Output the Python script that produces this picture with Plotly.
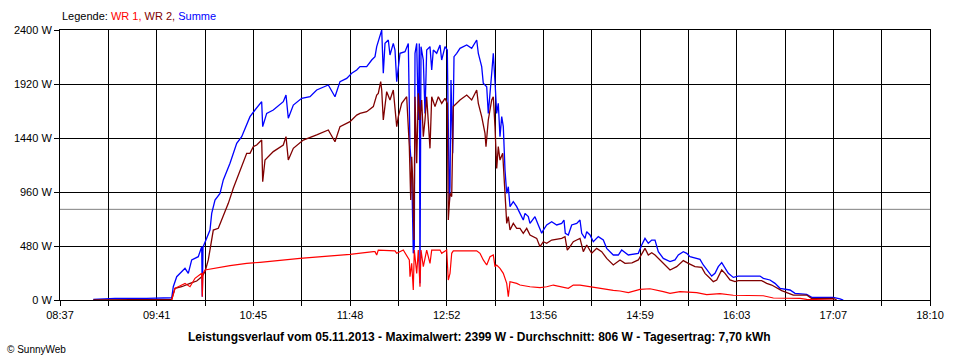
import plotly.graph_objects as go

# ---------------- data ----------------
x_tick_labels = ["08:37", "09:41", "10:45", "11:48", "12:52", "13:56", "14:59", "16:03", "17:07", "18:10"]
y_tick_values = [0, 480, 960, 1440, 1920, 2400]

avg_w = 806  # Durchschnitt

sum_time = ["08:58:56","09:13:13","09:34:06","09:50:34","09:51:37","09:53:52","09:59:20","10:01:30","10:03:44","10:08:05",
            "10:10:20","10:10:43","10:11:11","10:12:30","10:15:47","10:16:55","10:19:05","10:22:23","10:24:33","10:28:58",
            "10:33:23","10:36:40","10:39:58","10:42:08","10:45:26","10:49:50","10:50:30","10:53:08","10:57:29","11:04:04",
            "11:05:51","11:07:22","11:10:40","11:16:11","11:21:40","11:26:04","11:33:43","11:38:07","11:41:25","11:45:50",
            "11:49:07","11:52:25","11:54:35","11:59:00","12:02:17","12:04:28","12:05:35","12:07:46","12:08:53","12:09:56",
            "12:11:03","12:13:14","12:14:20","12:16:31","12:17:38","12:18:46","12:20:56","12:24:13","12:26:24","12:27:31",
            "12:28:38","12:29:41","12:30:21","12:30:49","12:31:56","12:32:59","12:33:38","12:34:06","12:34:46","12:36:17",
            "12:37:24","12:38:31","12:40:41","12:41:49","12:42:52","12:45:06","12:47:17","12:48:23","12:50:34","12:52:05",
            "12:52:44","12:53:24","12:53:52","12:54:31","12:55:38","12:56:30","12:58:17","13:00:27","13:04:52","13:08:09",
            "13:11:27","13:12:31","13:14:44","13:15:47","13:18:02","13:19:05","13:21:20","13:22:23","13:23:30","13:24:37",
            "13:25:40","13:26:47","13:27:55","13:28:58","13:30:05","13:31:13","13:32:16","13:33:23","13:35:33","13:37:47",
            "13:39:58","13:42:08","13:43:16","13:45:26","13:46:33","13:49:50","13:52:01","13:54:16","13:55:19","13:57:33",
            "14:00:50","14:04:08","14:07:26","14:08:56","14:09:48","14:11:47","14:14:01","14:17:19","14:19:29","14:20:36",
            "14:22:47","14:23:54","14:26:04","14:28:15","14:31:32","14:34:50","14:37:04","14:41:25","14:44:43","14:46:57",
            "14:51:18","14:57:53","15:00:07","15:02:17","15:04:28","15:06:43","15:08:53","15:11:03","15:14:21","15:18:46",
            "15:22:03","15:24:14","15:27:31","15:29:46","15:31:56","15:35:13","15:38:31","15:40:41","15:43:59","15:46:13",
            "15:48:24","15:50:34","15:52:49","15:54:59","15:57:10","16:00:27","16:03:44","16:18:02","16:20:13","16:24:37",
            "16:27:55","16:31:13","16:37:47","16:41:05","16:48:47","16:52:05","17:06:19","17:10:43","17:12:54"]
sum_w = [5,15,15,20,118,207,281,237,356,385,
         474,30,470,518,622,770,889,948,1067,1215,
         1393,1452,1570,1630,1689,1763,1541,1659,1689,1763,
         1822,1615,1733,1793,1807,1867,1911,1807,1941,1970,
         2015,2044,2074,2074,2133,2163,2252,2355,2399,2015,
         2281,2311,2178,2281,2222,1941,2193,2207,2281,1363,
         1156,415,474,2193,2281,1600,2281,150,2252,2133,
         1659,2222,2252,2044,2222,2193,2267,2133,2252,2222,
         1333,859,1007,1956,1304,2163,2193,2237,2267,2237,
         2311,2193,2074,1926,1896,1659,2015,2193,1941,1659,
         1748,1452,1630,1541,1156,948,1007,830,874,830,
         770,711,770,741,681,741,667,593,622,667,
         696,667,681,711,593,578,667,681,711,593,
         548,607,578,518,563,533,459,400,400,444,
         400,415,489,548,504,533,533,430,370,341,
         356,400,430,415,385,370,361,311,252,213,
         237,296,332,282,237,201,213,213,193,178,
         148,104,89,59,50,24,24,9,0]

wr2_time = ["08:58:56","09:50:34","09:52:44","09:57:09","10:02:37","10:07:02","10:10:20","10:12:30","10:14:40","10:16:15",
            "10:17:58","10:21:16","10:24:33","10:27:51","10:31:08","10:34:26","10:37:44","10:39:58","10:42:08","10:44:19",
            "10:46:33","10:49:50","10:50:30","10:52:01","10:57:29","11:04:04","11:05:51","11:07:22","11:10:40","11:17:14",
            "11:26:04","11:33:43","11:38:07","11:41:25","11:48:00","11:52:25","11:54:35","11:59:00","12:03:21","12:05:35",
            "12:06:38","12:08:13","12:08:53","12:09:56","12:12:10","12:14:20","12:16:31","12:18:46","12:19:49","12:22:03",
            "12:25:20","12:27:04","12:27:59","12:28:38","12:29:18","12:30:09","12:30:49","12:31:56","12:32:59","12:34:06",
            "12:35:13","12:36:17","12:37:24","12:38:31","12:40:41","12:41:49","12:43:59","12:46:10","12:48:23","12:50:34",
            "12:52:05","12:52:44","12:53:52","12:54:59","12:56:02","13:00:27","13:04:52","13:08:09","13:11:27","13:12:31",
            "13:14:44","13:16:55","13:17:34","13:19:05","13:21:20","13:22:23","13:23:30","13:24:37","13:25:40","13:26:47",
            "13:28:34","13:30:05","13:31:13","13:32:16","13:33:23","13:35:33","13:37:47","13:39:58","13:42:08","13:44:23",
            "13:46:33","13:50:58","13:53:08","13:55:19","13:57:33","14:00:50","14:07:26","14:09:36","14:11:07","14:12:54",
            "14:15:04","14:17:19","14:19:29","14:21:40","14:23:54","14:27:11","14:30:29","14:33:46","14:37:04","14:41:25",
            "14:45:50","14:49:07","14:53:44","14:57:53","15:00:07","15:02:17","15:04:28","15:06:43","15:08:53","15:11:03",
            "15:14:21","15:18:46","15:23:10","15:27:31","15:30:49","15:35:13","15:39:38","15:41:49","15:45:06","15:47:17",
            "15:49:31","15:52:49","15:54:59","15:58:17","16:01:34","16:03:44","16:19:09","16:22:26","16:25:44","16:29:02",
            "16:32:19","16:39:58","16:48:47","16:52:05","17:06:19","17:08:33"]
wr2_w = [0,5,104,118,148,169,207,252,356,474,
         622,637,741,859,993,1111,1215,1304,1304,1363,
         1378,1422,1052,1244,1319,1378,1452,1244,1348,1422,
         1467,1511,1407,1541,1585,1644,1659,1674,1719,1822,
         1837,1941,1867,1600,1852,1778,1867,1541,1630,1748,
         1807,1363,889,1274,1067,533,1807,1215,1837,1600,
         1778,1452,1600,1807,1348,1807,1719,1807,1748,1793,
         1748,711,948,919,1719,1778,1822,1778,1867,1748,
         1630,1481,1363,1600,1778,1807,1541,1170,1363,1244,
         1304,889,681,741,622,681,637,637,593,637,
         578,548,474,518,504,533,548,563,444,474,
         518,533,548,430,489,415,459,430,370,311,
         356,326,330,356,415,459,400,420,400,370,
         326,267,296,350,326,296,290,237,193,163,
         178,267,237,178,163,172,172,148,133,104,
         83,44,44,12,15,0]

wr1_time = ["09:50:34","09:52:44","09:59:20","10:02:37","10:05:55","10:10:20","10:10:43","10:11:11","10:12:30","10:17:58",
            "10:28:58","10:39:58","10:48:43","11:15:04","11:48:00","12:03:21","12:04:28","12:05:35","12:06:38","12:17:38",
            "12:18:46","12:23:06","12:27:04","12:27:31","12:28:38","12:29:41","12:30:21","12:31:56","12:32:59","12:34:06",
            "12:34:46","12:36:17","12:38:31","12:40:41","12:41:49","12:47:17","12:48:23","12:51:41","12:52:44","12:53:52",
            "12:54:59","12:56:02","13:11:27","13:13:37","13:15:47","13:18:02","13:20:13","13:22:23","13:23:30","13:24:37",
            "13:26:47","13:28:58","13:31:13","13:32:16","13:33:23","13:37:47","13:39:58","13:46:33","13:53:08","13:57:33",
            "14:01:54","14:11:47","14:15:04","14:19:29","14:26:04","14:32:40","14:41:25","14:45:50","14:51:18","14:59:00",
            "15:05:35","15:14:21","15:18:46","15:25:21","15:36:20","15:42:56","15:51:41","16:00:27","16:11:27","16:20:13",
            "16:26:48","16:44:23","16:48:47","17:06:19"]
wr1_w = [0,104,148,118,193,237,30,237,267,281,
         305,326,335,370,406,430,430,400,444,437,
         415,444,356,207,326,89,444,237,444,118,
         444,296,444,326,444,444,415,444,178,237,
         415,437,437,415,356,311,385,400,296,311,
         281,237,148,30,163,148,133,118,110,118,
         133,104,133,133,118,104,85,80,65,95,
         100,74,59,74,65,48,56,42,38,38,
         18,15,6,0]

# ---------------- helpers ----------------
def to_min(s):
    h, m, sec = (int(v) for v in s.split(":"))
    return h * 60 + m + sec / 60.0

x_start = to_min(x_tick_labels[0] + ":00")
x_end = to_min(x_tick_labels[-1] + ":00")
n_grid = 2 * (len(x_tick_labels) - 1)
grid_vals = [x_start + i * (x_end - x_start) / n_grid for i in range(n_grid + 1)]
grid_text = [x_tick_labels[i // 2] if i % 2 == 0 else "" for i in range(n_grid + 1)]

FONT = "Liberation Sans, Arial, sans-serif"

fig = go.Figure()
fig.add_trace(go.Scatter(x=[to_min(t) for t in sum_time], y=sum_w, mode="lines",
                         line=dict(color="#0000FF", width=1.3), name="Summe", hoverinfo="skip"))
fig.add_trace(go.Scatter(x=[to_min(t) for t in wr2_time], y=wr2_w, mode="lines",
                         line=dict(color="#800000", width=1.3), name="WR 2", hoverinfo="skip"))
fig.add_trace(go.Scatter(x=[to_min(t) for t in wr1_time], y=wr1_w, mode="lines",
                         line=dict(color="#FF0000", width=1.2), name="WR 1", hoverinfo="skip"))

fig.add_shape(type="line", xref="paper", x0=0, x1=1, yref="y", y0=avg_w, y1=avg_w,
              line=dict(color="#808080", width=1), layer="between")

fig.update_layout(
    width=960, height=360,
    margin=dict(l=60, r=30, t=30, b=60, autoexpand=False),
    paper_bgcolor="white", plot_bgcolor="white",
    showlegend=False,
    font=dict(family=FONT, size=11, color="black"),
    xaxis=dict(range=[x_start, x_end], tickmode="array", tickvals=grid_vals, ticktext=grid_text,
               showgrid=True, gridcolor="black", gridwidth=1, zeroline=False,
               showline=True, linecolor="black", linewidth=1, mirror=True,
               ticks="outside", ticklen=5, tickcolor="black", tickwidth=1,
               tickfont=dict(family=FONT, size=11, color="black"), automargin=False, fixedrange=True),
    yaxis=dict(range=[0, 2400], tickmode="array", tickvals=y_tick_values,
               ticktext=[f"{v} W" for v in y_tick_values],
               showgrid=True, gridcolor="black", gridwidth=1, zeroline=False,
               showline=True, linecolor="black", linewidth=1, mirror=True,
               ticks="outside", ticklen=5, tickcolor="black", tickwidth=1,
               tickfont=dict(family=FONT, size=11, color="black"), automargin=False, fixedrange=True),
)

fig.add_annotation(xref="paper", yref="paper", x=0, y=(300 - 16) / 270, xanchor="left", yanchor="middle",
                   showarrow=False, font=dict(family=FONT, size=11, color="black"),
                   text="Legende: <span style='color:#FF0000'>WR 1, </span><span style='color:#800000'>WR 2, </span>"
                        "<span style='color:#0000FF'>Summe</span>")
fig.add_annotation(xref="paper", yref="paper", x=(479.5 - 60) / 870, y=(300 - 337) / 270,
                   xanchor="center", yanchor="middle", showarrow=False,
                   font=dict(family=FONT, size=12, color="black"),
                   text="<b>Leistungsverlauf vom 05.11.2013 - Maximalwert: 2399 W - Durchschnitt: 806 W - "
                        "Tagesertrag: 7,70 kWh</b>")
fig.add_annotation(xref="paper", yref="paper", x=(5 - 60) / 870, y=(300 - 349) / 270,
                   xanchor="left", yanchor="middle", showarrow=False,
                   font=dict(family=FONT, size=10, color="black"), text="© SunnyWeb")

fig.write_html("out.html", config={"displayModeBar": False},
               post_script="document.body.style.margin='0';document.body.style.overflow='hidden';")
